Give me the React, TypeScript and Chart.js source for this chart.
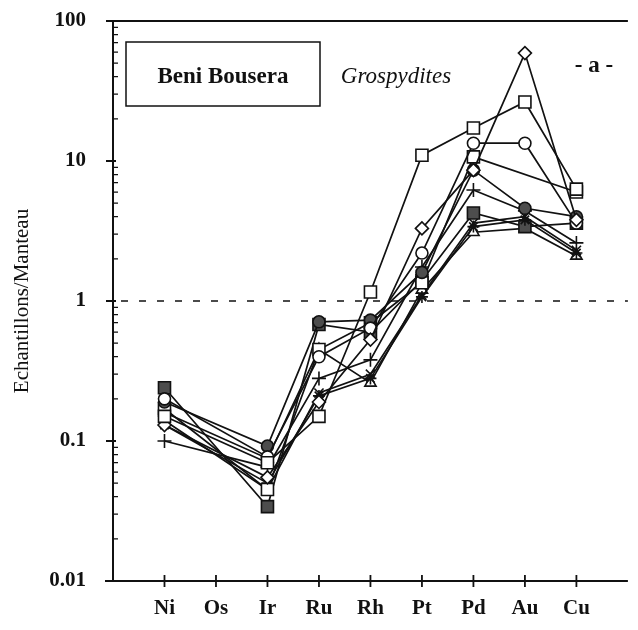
import React, { useEffect, useRef } from 'react';
import { Chart, registerables } from 'chart.js';

Chart.register(...registerables);

// Categories (mantle normalised elements)
const categories = ['Ni', 'Os', 'Ir', 'Ru', 'Rh', 'Pt', 'Pd', 'Au', 'Cu'];
const yTickValues = [0.01, 0.1, 1, 10, 100];
const yTickLabels = ['0.01', '0.1', '1', '10', '100'];

// Series values (null = not analysed)
const sampleOpenSquare = [0.15, null, 0.07, 0.15, 1.16, 11, 17.2, 26.4, 6.3];
const sampleDiamond = [0.13, null, 0.055, 0.19, 0.53, 3.3, 8.6, 59, 3.8];
const sampleOpenCircle = [0.2, null, 0.077, 0.4, 0.64, 2.2, 13.4, 13.4, 3.6];
const sampleFilledCircle = [0.19, null, 0.092, 0.71, 0.73, 1.6, 8.6, 4.6, 4.0];
const samplePlus = [0.1, null, 0.065, 0.28, 0.38, 1.75, 6.2, 4.4, 2.6];
const sampleSquareB = [0.17, null, 0.045, 0.45, 0.7, 1.35, 10.7, null, 6.0];
const sampleStar = [0.13, null, 0.05, 0.21, 0.28, 1.07, 3.4, 3.8, 2.2];
const sampleFilledSquare = [0.24, null, 0.034, 0.68, 0.6, 1.4, 4.25, 3.4, 3.6];
const sampleTriangle = [0.16, null, 0.075, 0.45, 0.26, 1.2, 3.1, 3.3, 2.1];
const sampleCross = [0.14, null, 0.045, 0.22, 0.3, 1.1, 3.6, 4.0, 2.3];

const GREY = '#4d4d4d';
const WHITE = '#ffffff';

const seriesList = [
  { name: 'A', values: sampleOpenSquare, style: 'rect', fill: WHITE, r: 8.5 },
  { name: 'B', values: sampleDiamond, style: 'rectRot', fill: WHITE, r: 6.5 },
  { name: 'C', values: sampleOpenCircle, style: 'circle', fill: WHITE, r: 6 },
  { name: 'D', values: sampleFilledCircle, style: 'circle', fill: GREY, r: 6 },
  { name: 'E', values: samplePlus, style: 'cross', fill: WHITE, r: 7 },
  { name: 'F', values: sampleSquareB, style: 'rect', fill: WHITE, r: 8.5 },
  { name: 'G', values: sampleStar, style: 'star', fill: WHITE, r: 6 },
  { name: 'H', values: sampleFilledSquare, style: 'rect', fill: GREY, r: 8.5 },
  { name: 'I', values: sampleTriangle, style: 'triangle', fill: WHITE, r: 6.5 },
  { name: 'J', values: sampleCross, style: 'crossRot', fill: WHITE, r: 6.5 },
];

const SERIF = "'Liberation Serif', 'Times New Roman', 'DejaVu Serif', serif";

const framePlugin = {
  id: 'frame',
  beforeDatasetsDraw(chart: any) {
    const { ctx, chartArea } = chart;
    const { left, right, top, bottom } = chartArea;
    const ys = chart.scales.y;
    const xs = chart.scales.x;
    ctx.save();
    ctx.strokeStyle = '#111';
    ctx.lineWidth = 2;
    ctx.beginPath();
    ctx.moveTo(left - 6, top);
    ctx.lineTo(right, top);
    ctx.moveTo(left, top);
    ctx.lineTo(left, bottom);
    ctx.moveTo(left - 8, bottom);
    ctx.lineTo(right, bottom);
    ctx.stroke();
    // major y ticks
    ctx.lineWidth = 1.8;
    ctx.beginPath();
    yTickValues.forEach((v) => {
      const py = ys.getPixelForValue(v);
      ctx.moveTo(left - 7, py);
      ctx.lineTo(left + 3, py);
    });
    ctx.stroke();
    // minor y ticks
    ctx.lineWidth = 1.3;
    ctx.beginPath();
    yTickValues.slice(0, -1).forEach((d) => {
      for (let m = 2; m <= 9; m++) {
        const py = ys.getPixelForValue(d * m);
        ctx.moveTo(left, py);
        ctx.lineTo(left + 5, py);
      }
    });
    ctx.stroke();
    // x ticks
    ctx.lineWidth = 1.8;
    ctx.beginPath();
    categories.forEach((_, i) => {
      const px = xs.getPixelForValue(i);
      ctx.moveTo(px, bottom - 6);
      ctx.lineTo(px, bottom + 6);
    });
    ctx.stroke();
    // dashed reference line at 1
    const y1 = ys.getPixelForValue(1);
    ctx.lineWidth = 1.5;
    ctx.setLineDash([7, 11]);
    ctx.beginPath();
    ctx.moveTo(left + 8, y1);
    ctx.lineTo(right, y1);
    ctx.stroke();
    ctx.restore();
  },
  afterDraw(chart: any) {
    const { ctx, chartArea } = chart;
    const { left, top } = chartArea;
    ctx.save();
    ctx.strokeStyle = '#111';
    ctx.fillStyle = '#111';
    ctx.lineWidth = 1.5;
    ctx.strokeRect(left + 13, top + 21, 194, 64);
    ctx.textAlign = 'center';
    ctx.textBaseline = 'middle';
    ctx.font = `bold 23px ${SERIF}`;
    ctx.fillText('Beni Bousera', left + 110, top + 56);
    ctx.font = `italic 23px ${SERIF}`;
    ctx.fillText('Grospydites', left + 283, top + 56);
    ctx.font = `bold 23px ${SERIF}`;
    ctx.fillText('- a -', left + 481, top + 45);
    ctx.restore();
  },
};

export default function App() {
  const ref = useRef<HTMLCanvasElement | null>(null);

  useEffect(() => {
    if (!ref.current) return;
    const datasets = seriesList.map((s) => ({
      label: s.name,
      data: categories.map((_, i) => ({ x: i, y: s.values[i] })),
      borderColor: '#111',
      borderWidth: 1.7,
      pointStyle: s.style,
      pointRadius: s.r,
      pointBackgroundColor: s.fill,
      pointBorderColor: '#111',
      pointBorderWidth: 1.6,
      spanGaps: true,
      tension: 0,
      fill: false,
    }));

    const chart = new Chart(ref.current, {
      type: 'line',
      data: { datasets },
      plugins: [framePlugin],
      options: {
        responsive: false,
        animation: false,
        events: [],
        layout: { padding: { top: 21, right: 0, left: 0, bottom: 0 } },
        plugins: {
          legend: { display: false },
          tooltip: { enabled: false },
          title: { display: false },
        },
        scales: {
          x: {
            type: 'linear',
            min: -1,
            max: 9,
            grid: { display: false },
            border: { display: false },
            afterBuildTicks: (scale: any) => {
              scale.ticks = categories.map((_, i) => ({ value: i }));
            },
            afterFit: (scale: any) => {
              scale.height = 49;
              scale.paddingLeft = 0;
              scale.paddingRight = 0;
            },
            ticks: {
              autoSkip: false,
              maxRotation: 0,
              padding: 7,
              color: '#111',
              font: { family: SERIF, size: 21, weight: 'bold' },
              callback: (v: any) => categories[Math.round(v)] ?? '',
            },
          },
          y: {
            type: 'logarithmic',
            min: 0.01,
            max: 100,
            grid: { display: false },
            border: { display: false },
            afterBuildTicks: (scale: any) => {
              scale.ticks = yTickValues.map((v) => ({ value: v }));
            },
            afterFit: (scale: any) => {
              scale.width = 113;
              scale.paddingTop = 0;
              scale.paddingBottom = 0;
            },
            title: {
              display: true,
              text: 'Echantillons/Manteau',
              color: '#111',
              font: { family: SERIF, size: 21, weight: 'normal' },
              padding: { top: 10, bottom: 0 },
            },
            ticks: {
              padding: 19,
              color: '#111',
              font: { family: SERIF, size: 21, weight: 'bold' },
              callback: (v: any) => {
                const idx = yTickValues.findIndex((t) => Math.abs(t - v) / t < 1e-6);
                return idx >= 0 ? yTickLabels[idx] : '';
              },
            },
          },
        },
      } as any,
    });
    return () => chart.destroy();
  }, []);

  return (
    <div style={{ position: 'absolute', left: 0, top: 0, width: 638, height: 630, background: '#fff' }}>
      <canvas ref={ref} width={638} height={630} style={{ width: 638, height: 630, display: 'block' }} />
    </div>
  );
}
